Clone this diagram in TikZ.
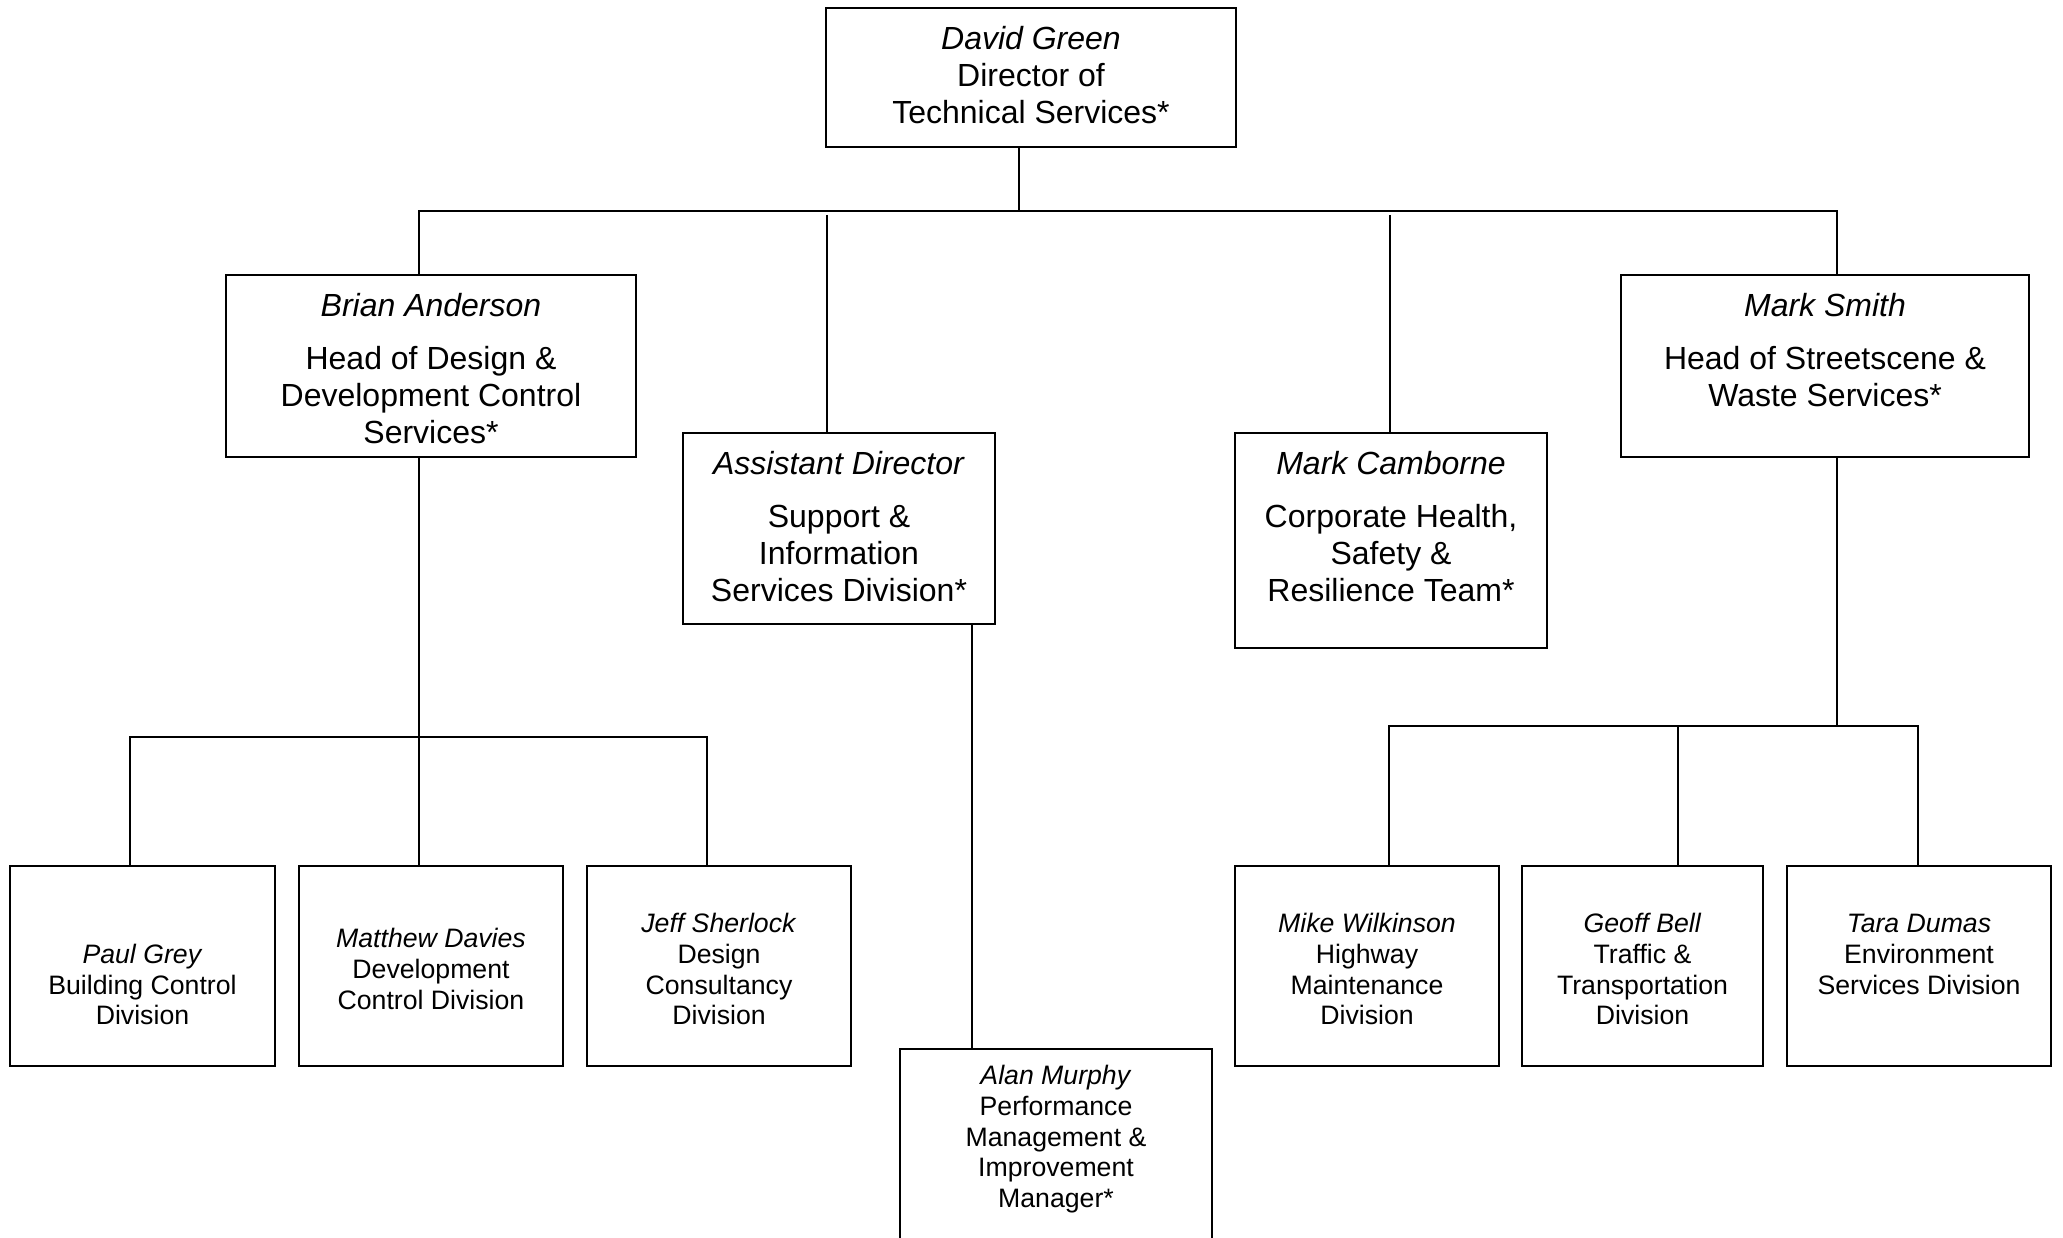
\documentclass[tikz,border=0pt]{standalone}
\usepackage{fontspec}
\setmainfont{Liberation Sans}
\usetikzlibrary{positioning}

\newcommand{\bigtxt}{\fontsize{32}{36.8}\selectfont}
\newcommand{\smalltxt}{\fontsize{26.67}{30.67}\selectfont}

\tikzset{
	orgbox/.style={draw, line width=2pt, inner sep=0pt, outer sep=0pt},
	bigtext/.style={inner sep=0pt, outer sep=0pt, align=center, font=\bigtxt},
	smalltext/.style={inner sep=0pt, outer sep=0pt, align=center, font=\smalltxt},
	link/.style={line width=2pt}
}

\begin{document}
\begin{tikzpicture}[x=1pt, y=-1pt]
	\useasboundingbox (0,0) rectangle (2063,1238);
	\clip (0,0) rectangle (2063,1238);
	
	% 顶层
	\node[orgbox, minimum width=410pt, minimum height=139pt] (green) at (1031,77.5) {};
	\node[bigtext, below=16pt of green.north] (green-t) {\strut\textit{David Green}\\Director of\\Technical Services*};
	
	% 第二层
	\node[orgbox, minimum width=410pt, minimum height=182pt] (anderson) at (431,366) {};
	\node[bigtext, below=16pt of anderson.north] (anderson-t) {\strut\textit{Brian Anderson}\\[16pt]Head of Design \&\\Development Control\\Services*};
	
	\node[orgbox, minimum width=312pt, minimum height=191pt] (assist) at (839,528.5) {};
	\node[bigtext, below=16pt of assist.north] (assist-t) {\strut\textit{Assistant Director}\\[16pt]Support \&\\Information\\Services Division*};
	
	\node[orgbox, minimum width=312pt, minimum height=215pt] (camborne) at (1391,540.5) {};
	\node[bigtext, below=16pt of camborne.north] (camborne-t) {\strut\textit{Mark Camborne}\\[16pt]Corporate Health,\\Safety \&\\Resilience Team*};
	
	\node[orgbox, minimum width=408pt, minimum height=182pt] (smith) at (1825,366) {};
	\node[bigtext, below=16pt of smith.north] (smith-t) {\strut\textit{Mark Smith}\\[16pt]Head of Streetscene \&\\Waste Services*};
	
	% 第三层 (左)
	\node[orgbox, minimum width=265pt, minimum height=200pt] (grey) at (142.5,966) {};
	\node[smalltext, below=76pt of grey.north] (grey-t) {\strut\textit{Paul Grey}\\Building Control\\Division};
	
	\node[orgbox, minimum width=264pt, minimum height=200pt] (davies) at (431,966) {};
	\node[smalltext, below=60.5pt of davies.north] (davies-t) {\strut\textit{Matthew Davies}\\Development\\Control Division};
	
	\node[orgbox, minimum width=264pt, minimum height=200pt] (sherlock) at (719,966) {};
	\node[smalltext, below=45.5pt of sherlock.north] (sherlock-t) {\strut\textit{Jeff Sherlock}\\Design\\Consultancy\\Division};
	
	% 第三层 (中)
	\node[orgbox, minimum width=312pt, minimum height=211pt] (murphy) at (1056,1154.5) {};
	\node[smalltext, below=14.5pt of murphy.north] (murphy-t) {\strut\textit{Alan Murphy}\\Performance\\Management \&\\Improvement\\Manager*};
	
	% 第三层 (右)
	\node[orgbox, minimum width=264pt, minimum height=200pt] (wilkinson) at (1367,966) {};
	\node[smalltext, below=45.5pt of wilkinson.north] (wilkinson-t) {\strut\textit{Mike Wilkinson}\\Highway\\Maintenance\\Division};
	
	\node[orgbox, minimum width=241pt, minimum height=200pt] (bell) at (1642.5,966) {};
	\node[smalltext, below=45.5pt of bell.north] (bell-t) {\strut\textit{Geoff Bell}\\Traffic \&\\Transportation\\Division};
	
	\node[orgbox, minimum width=264pt, minimum height=200pt] (dumas) at (1919,966) {};
	\node[smalltext, below=45.5pt of dumas.north] (dumas-t) {\strut\textit{Tara Dumas}\\Environment\\Services Division};
	
	% 连线
	\coordinate (topJ) at (1019,211);
	\coordinate (barL) at (419,211);
	\coordinate (barR) at (1837,211);
	\draw[link] (topJ |- green.south) -- (topJ);
	\draw[link] (barL |- anderson.north) -- (barL) -- (barR) -- (barR |- smith.north);
	\coordinate (assistJ) at (827,215);
	\draw[link] (assistJ) -- (assistJ |- assist.north);
	\coordinate (cambJ) at (1390,215);
	\draw[link] (cambJ) -- (cambJ |- camborne.north);
	
	\coordinate (leftL) at (130,737);
	\coordinate (leftR) at (707,737);
	\draw[link] (barL |- anderson.south) -- (barL |- davies.north);
	\draw[link] (leftL |- grey.north) -- (leftL) -- (leftR) -- (leftR |- sherlock.north);
	
	\coordinate (midJ) at (972,624);
	\draw[link] (midJ |- assist.south) -- (midJ |- murphy.north);
	
	\coordinate (rightL) at (1389,726);
	\coordinate (rightR) at (1918,726);
	\coordinate (bellJ) at (1678,726);
	\draw[link] (barR |- smith.south) -- (barR |- rightL);
	\draw[link] (rightL |- wilkinson.north) -- (rightL) -- (rightR) -- (rightR |- dumas.north);
	\draw[link] (bellJ) -- (bellJ |- bell.north);
\end{tikzpicture}
\end{document}
